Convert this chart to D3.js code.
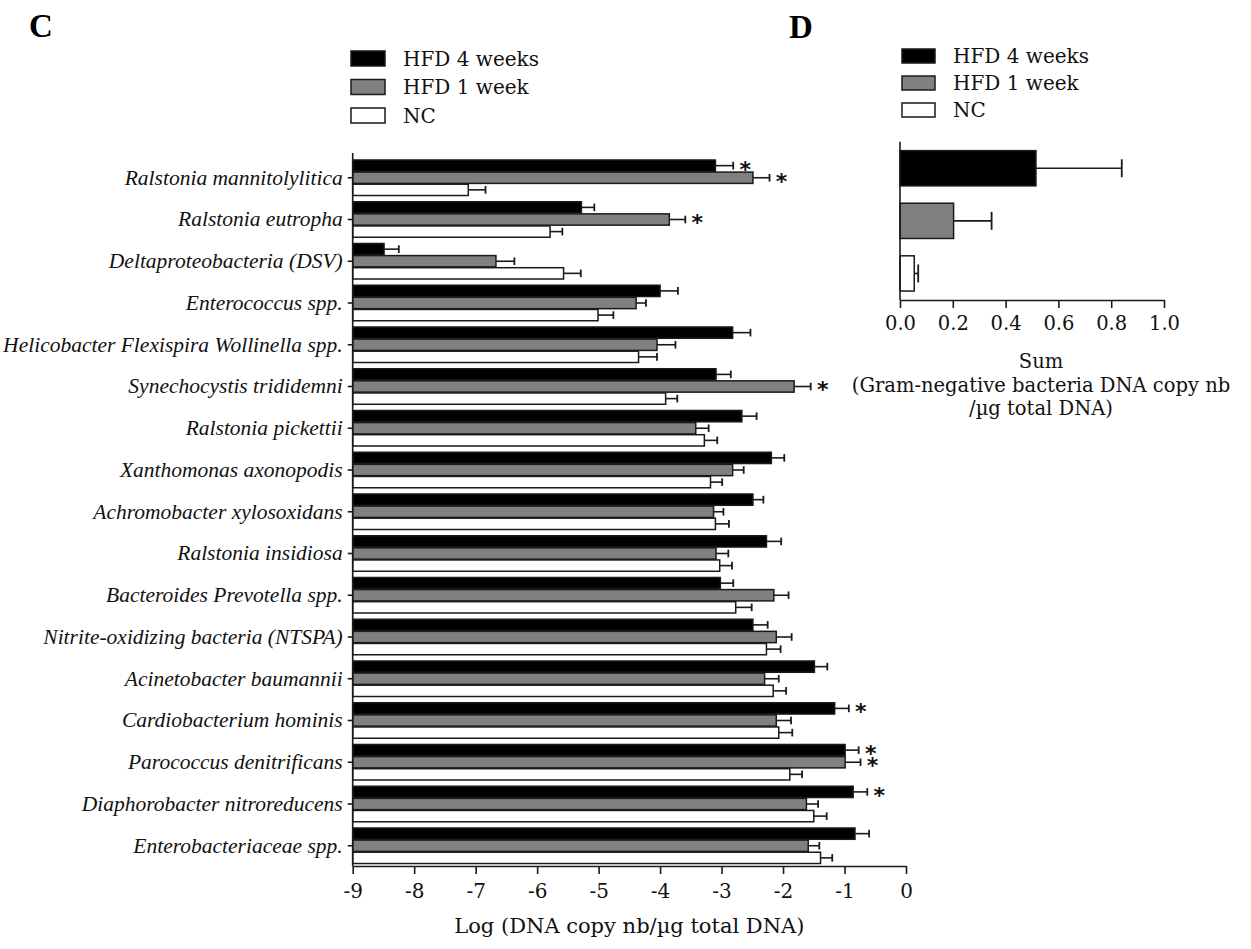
<!DOCTYPE html>
<html><head><meta charset="utf-8">
<script src="https://cdn.jsdelivr.net/npm/d3@7"></script>
<style>
html,body{margin:0;padding:0;background:#fff;}
svg{display:block;}
</style></head>
<body>
<svg id="chart" width="1251" height="949"></svg>
<script>
const categories = [
  "Ralstonia mannitolylitica","Ralstonia eutropha","Deltaproteobacteria (DSV)","Enterococcus spp.",
  "Helicobacter Flexispira Wollinella spp.","Synechocystis trididemni","Ralstonia pickettii",
  "Xanthomonas axonopodis","Achromobacter xylosoxidans","Ralstonia insidiosa",
  "Bacteroides Prevotella spp.","Nitrite-oxidizing bacteria (NTSPA)","Acinetobacter baumannii",
  "Cardiobacterium hominis","Parococcus denitrificans","Diaphorobacter nitroreducens","Enterobacteriaceae spp."
];
const seriesNames = ["HFD 4 weeks","HFD 1 week","NC"];
const hfd4 =    [-3.10,-5.28,-8.49,-4.00,-2.82,-3.09,-2.67,-2.19,-2.49,-2.27,-3.02,-2.49,-1.49,-1.16,-0.99,-0.86,-0.83];
const hfd4Err = [0.29,0.21,0.24,0.29,0.29,0.24,0.24,0.21,0.17,0.24,0.21,0.24,0.21,0.23,0.22,0.23,0.23];
const hfd1 =    [-2.49,-3.85,-6.67,-4.39,-4.05,-1.82,-3.42,-2.82,-3.13,-3.09,-2.15,-2.11,-2.30,-2.11,-0.99,-1.62,-1.59];
const hfd1Err = [0.27,0.26,0.30,0.16,0.30,0.27,0.21,0.18,0.16,0.20,0.24,0.25,0.23,0.24,0.25,0.19,0.18];
const nc =      [-7.12,-5.79,-5.57,-5.01,-4.35,-3.91,-3.28,-3.18,-3.10,-3.03,-2.77,-2.27,-2.16,-2.07,-1.89,-1.50,-1.39];
const ncErr =   [0.28,0.20,0.28,0.25,0.30,0.19,0.21,0.19,0.22,0.20,0.26,0.23,0.21,0.22,0.20,0.21,0.19];
// significance marks: [category index, series index]
const stars = [[0,0],[0,1],[1,1],[5,1],[13,0],[14,0],[14,1],[15,0]];
const xTicksC = [-9,-8,-7,-6,-5,-4,-3,-2,-1,0];
const xTitleC = "Log (DNA copy nb/\u00b5g total DNA)";

const sumValues = [0.515,0.203,0.054];
const sumErr =    [0.325,0.144,0.015];
const xTicksD = [0,0.2,0.4,0.6,0.8,1.0];
const xTitleD = ["Sum","(Gram-negative bacteria DNA copy nb","/\u00b5g total DNA)"];

const fills = ["#000000","#808080","#ffffff"];
const stroke = "#1a1a1a";
const serif = "'DejaVu Serif', serif";
const italicFont = "'Liberation Serif', serif";

const svg = d3.select("#chart");

// ---------- Panel C ----------
const seriesVals = [hfd4,hfd1,nc];
const seriesErrs = [hfd4Err,hfd1Err,ncErr];
const x = d3.scaleLinear().domain([-9,0]).range([352.7,906]);
const y = d3.scaleBand().domain(categories).range([157.5,866]).paddingInner(0.13).paddingOuter(0.05);
const ySub = d3.scaleBand().domain(d3.range(3)).range([0,y.bandwidth()]);

const gC = svg.append("g");
const rows = [];
categories.forEach((c,i)=>{
  for(let s=0;s<3;s++) rows.push({c,i,s,v:seriesVals[s][i],e:seriesErrs[s][i]});
});
const cy = d => y(d.c)+ySub(d.s)+ySub.bandwidth()/2;
// error bars
const eb = gC.append("g").selectAll("g").data(rows).join("g");
eb.append("line")
  .attr("x1",d=>x(d.v)).attr("x2",d=>x(d.v+d.e))
  .attr("y1",cy).attr("y2",cy)
  .attr("stroke",stroke).attr("stroke-width",1.6);
eb.append("line")
  .attr("x1",d=>x(d.v+d.e)).attr("x2",d=>x(d.v+d.e))
  .attr("y1",d=>cy(d)-3.8).attr("y2",d=>cy(d)+3.8)
  .attr("stroke",stroke).attr("stroke-width",1.8);
// bars
gC.append("g").selectAll("rect").data(rows).join("rect")
  .attr("x",x(-9))
  .attr("y",d=>y(d.c)+ySub(d.s)+0.4)
  .attr("width",d=>x(d.v)-x(-9))
  .attr("height",ySub.bandwidth()-0.8)
  .attr("fill",d=>fills[d.s]).attr("stroke",stroke).attr("stroke-width",1.5);
// stars
gC.append("g").selectAll("text").data(stars).join("text")
  .attr("x",d=>x(seriesVals[d[1]][d[0]]+seriesErrs[d[1]][d[0]])+12)
  .attr("y",d=>y(categories[d[0]])+ySub(d[1])+ySub.bandwidth()/2+11)
  .attr("text-anchor","middle")
  .attr("font-family","'DejaVu Sans', sans-serif").attr("font-weight","bold")
  .attr("font-size",22).attr("fill","#111").text("*");

// x axis
const xAxisC = gC.append("g").attr("transform",`translate(0,${y.range()[1]})`)
  .call(d3.axisBottom(x).tickValues(xTicksC).tickFormat(d=>String(d)).tickSize(8).tickSizeOuter(0));
xAxisC.select(".domain").attr("stroke",stroke).attr("stroke-width",1.6);
xAxisC.selectAll(".tick line").attr("stroke",stroke).attr("stroke-width",1.6);
xAxisC.selectAll(".tick text").attr("font-family",serif).attr("font-size",20).attr("fill","#111").attr("dy","1.05em");
// y axis
const yAxisC = gC.append("g").attr("transform",`translate(${x(-9)},0)`)
  .call(d3.axisLeft(y).tickSize(5).tickSizeOuter(0).tickPadding(5));
yAxisC.select(".domain").attr("d",`M0,153V${y.range()[1]}`).attr("stroke",stroke).attr("stroke-width",1.6);
yAxisC.selectAll(".tick line").attr("stroke",stroke).attr("stroke-width",1.6);
yAxisC.selectAll(".tick text").attr("font-family",italicFont).attr("font-style","italic")
  .attr("font-size",21.5).attr("fill","#111");
// x title
gC.append("text").attr("x",(x(-9)+x(0))/2).attr("y",933).attr("text-anchor","middle")
  .attr("font-family",serif).attr("font-size",21).attr("fill","#111").text(xTitleC);
// legend
const legC = gC.append("g").selectAll("g").data(seriesNames).join("g")
  .attr("transform",(d,i)=>`translate(351,${51+i*28.5})`);
legC.append("rect").attr("width",34).attr("height",15)
  .attr("fill",(d,i)=>fills[i]).attr("stroke",stroke).attr("stroke-width",1.5);
legC.append("text").attr("x",52).attr("y",7.5).attr("dy","0.36em")
  .attr("font-family",serif).attr("font-size",20).attr("fill","#111").text(d=>d);
// panel letter
svg.append("text").attr("x",29).attr("y",37).attr("font-family","'Liberation Serif', serif").attr("font-weight","bold")
  .attr("font-size",33).attr("fill","#000").text("C");

// ---------- Panel D ----------
const gD = svg.append("g");
const xD = d3.scaleLinear().domain([0,1]).range([900,1164]);
const yD = d3.scaleBand().domain(d3.range(3)).range([141.7,300]).paddingInner(0.33).paddingOuter(0.17);
const dRows = sumValues.map((v,i)=>({s:i,v,e:sumErr[i]}));
const ebD = gD.append("g").selectAll("g").data(dRows).join("g");
ebD.append("line").attr("x1",d=>xD(d.v)).attr("x2",d=>xD(d.v+d.e))
  .attr("y1",d=>yD(d.s)+yD.bandwidth()/2).attr("y2",d=>yD(d.s)+yD.bandwidth()/2)
  .attr("stroke",stroke).attr("stroke-width",1.6);
ebD.append("line").attr("x1",d=>xD(d.v+d.e)).attr("x2",d=>xD(d.v+d.e))
  .attr("y1",d=>yD(d.s)+yD.bandwidth()/2-9).attr("y2",d=>yD(d.s)+yD.bandwidth()/2+9)
  .attr("stroke",stroke).attr("stroke-width",1.8);
gD.append("g").selectAll("rect").data(dRows).join("rect")
  .attr("x",xD(0)).attr("y",d=>yD(d.s)).attr("width",d=>xD(d.v)-xD(0)).attr("height",yD.bandwidth())
  .attr("fill",d=>fills[d.s]).attr("stroke",stroke).attr("stroke-width",1.5);
const xAxisD = gD.append("g").attr("transform","translate(0,300)")
  .call(d3.axisBottom(xD).tickValues(xTicksD).tickFormat(d3.format(".1f")).tickSize(8).tickSizeOuter(0));
xAxisD.select(".domain").attr("stroke",stroke).attr("stroke-width",1.6);
xAxisD.selectAll(".tick line").attr("stroke",stroke).attr("stroke-width",1.6);
xAxisD.selectAll(".tick text").attr("font-family",serif).attr("font-size",19.5).attr("fill","#111").attr("dy","0.95em");
gD.append("line").attr("x1",xD(0)).attr("x2",xD(0)).attr("y1",141.7).attr("y2",300)
  .attr("stroke",stroke).attr("stroke-width",1.6);
gD.append("g").selectAll("text").data(xTitleD).join("text")
  .attr("x",1041).attr("y",(d,i)=>368+i*23.5).attr("text-anchor","middle")
  .attr("font-family",serif).attr("font-size",19.5).attr("fill","#111").text(d=>d);
const legD = gD.append("g").selectAll("g").data(seriesNames).join("g")
  .attr("transform",(d,i)=>`translate(902,${49+i*27})`);
legD.append("rect").attr("width",33).attr("height",14)
  .attr("fill",(d,i)=>fills[i]).attr("stroke",stroke).attr("stroke-width",1.5);
legD.append("text").attr("x",51).attr("y",7).attr("dy","0.36em")
  .attr("font-family",serif).attr("font-size",20).attr("fill","#111").text(d=>d);
svg.append("text").attr("x",789).attr("y",38).attr("font-family","'Liberation Serif', serif").attr("font-weight","bold")
  .attr("font-size",33).attr("fill","#000").text("D");
</script>
</body></html>
